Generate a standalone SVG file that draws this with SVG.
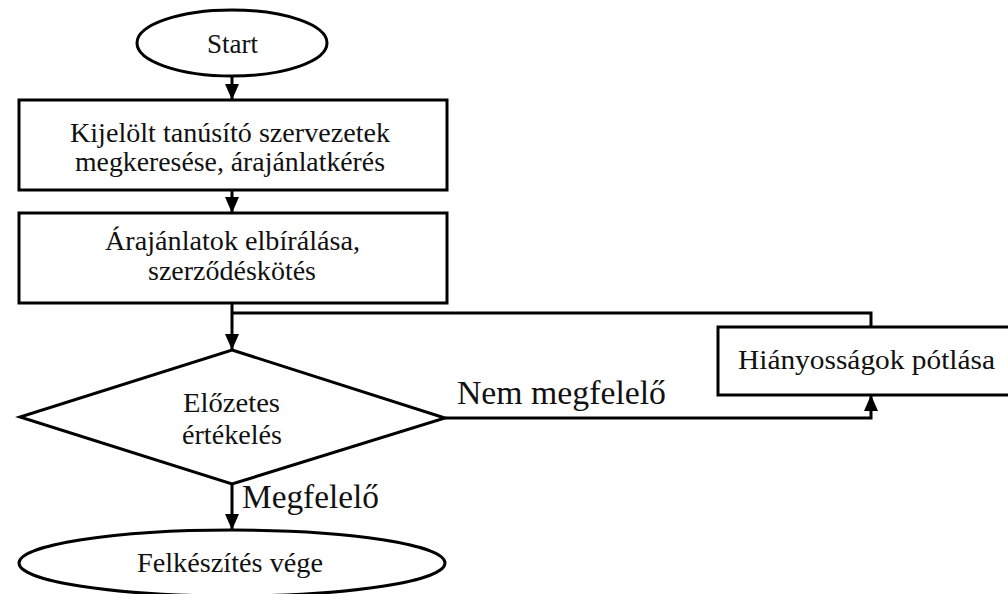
<svg xmlns="http://www.w3.org/2000/svg" width="1008" height="594" viewBox="0 0 1008 594">
  <style>
    .shape { fill: #ffffff; stroke: #000000; stroke-width: 3; }
    .line { fill: none; stroke: #000000; stroke-width: 3; }
    .t { font-family: "Liberation Serif", "Times New Roman", serif; font-size: 27px; fill: #111111; }
    .lbl { font-family: "Liberation Serif", "Times New Roman", serif; font-size: 33px; fill: #111111; }
  </style>
  <defs>
    <marker id="arrow" viewBox="0 0 16 14" refX="16" refY="7" markerWidth="16" markerHeight="14" markerUnits="userSpaceOnUse" orient="auto">
      <path d="M0,0 L16,7 L0,14 Z" fill="#000000"/>
    </marker>
  </defs>
  <rect width="1008" height="594" fill="#ffffff"/>

  <g id="connectors">
    <line class="line" x1="232" y1="76" x2="232" y2="100" marker-end="url(#arrow)"/>
    <line class="line" x1="232" y1="190" x2="232" y2="213" marker-end="url(#arrow)"/>
    <line class="line" x1="232" y1="303" x2="232" y2="350" marker-end="url(#arrow)"/>
    <polyline class="line" points="232,313 871,313 871,327"/>
    <polyline class="line" points="445,418 871,418 871,395" marker-end="url(#arrow)"/>
    <line class="line" x1="232" y1="484" x2="232" y2="530" marker-end="url(#arrow)"/>
    <text class="lbl" x="457" y="404" textLength="209" lengthAdjust="spacingAndGlyphs">Nem megfelelő</text>
    <text class="lbl" x="242" y="508" textLength="137" lengthAdjust="spacingAndGlyphs">Megfelelő</text>
  </g>

  <g id="start">
    <ellipse class="shape" cx="232" cy="43" rx="95" ry="33"/>
    <text class="t" x="207" y="53" textLength="51" lengthAdjust="spacingAndGlyphs">Start</text>
  </g>

  <g id="kijelolt">
    <rect class="shape" x="19" y="100" width="428" height="90"/>
    <text class="t" x="70" y="142" textLength="320" lengthAdjust="spacingAndGlyphs">Kijelölt tanúsító szervezetek</text>
    <text class="t" x="75" y="171" textLength="310" lengthAdjust="spacingAndGlyphs">megkeresése, árajánlatkérés</text>
  </g>

  <g id="arajanlatok">
    <rect class="shape" x="19" y="213" width="428" height="90"/>
    <text class="t" x="105" y="250" textLength="255" lengthAdjust="spacingAndGlyphs">Árajánlatok elbírálása,</text>
    <text class="t" x="148" y="280" textLength="168" lengthAdjust="spacingAndGlyphs">szerződéskötés</text>
  </g>

  <g id="elozetes">
    <polygon class="shape" points="232,350 445,418 232,484 20,417"/>
    <text class="t" x="183" y="412" textLength="97" lengthAdjust="spacingAndGlyphs">Előzetes</text>
    <text class="t" x="182" y="444" textLength="100" lengthAdjust="spacingAndGlyphs">értékelés</text>
  </g>

  <g id="hianyossagok">
    <rect class="shape" x="718" y="327" width="300" height="68"/>
    <text class="t" x="738" y="369" textLength="257" lengthAdjust="spacingAndGlyphs">Hiányosságok pótlása</text>
  </g>

  <g id="vege">
    <ellipse class="shape" cx="232" cy="563" rx="213" ry="33"/>
    <text class="t" x="137" y="572" textLength="186" lengthAdjust="spacingAndGlyphs">Felkészítés vége</text>
  </g>
</svg>
